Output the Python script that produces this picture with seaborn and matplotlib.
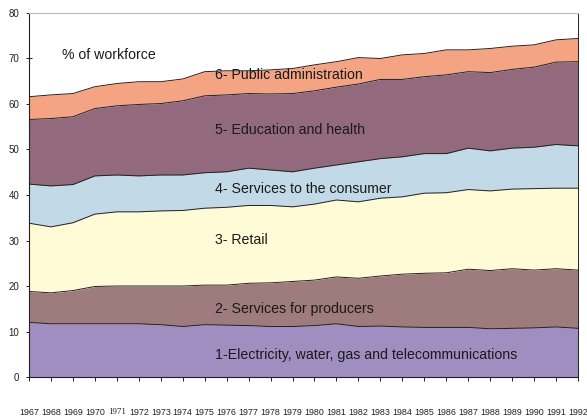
import numpy as np
import pandas as pd
import matplotlib
matplotlib.use("Agg")
import matplotlib.pyplot as plt
import seaborn as sns

# Share of workforce by sector (layer thickness, percentage points)
years = list(range(1967, 1993))
electricity = [12.0, 11.7, 11.7, 11.7, 11.7, 11.7, 11.5, 11.1, 11.5, 11.4, 11.3, 11.1, 11.1,
               11.3, 11.7, 11.1, 11.2, 11.0, 10.9, 10.9, 10.9, 10.6, 10.7, 10.8, 11.0, 10.7]
producers = [6.8, 6.8, 7.3, 8.2, 8.3, 8.3, 8.5, 8.9, 8.7, 8.8, 9.3, 9.6, 9.9,
             10.0, 10.3, 10.6, 11.0, 11.6, 11.9, 12.0, 12.8, 12.8, 13.1, 12.7, 12.8, 12.8]
retail = [15.0, 14.5, 14.9, 15.9, 16.3, 16.3, 16.5, 16.6, 16.9, 17.1, 17.1, 17.0, 16.4,
          16.7, 16.9, 16.8, 17.1, 17.0, 17.6, 17.6, 17.5, 17.5, 17.5, 17.9, 17.7, 18.0]
consumer = [8.6, 9.0, 8.4, 8.4, 8.1, 7.9, 7.9, 7.8, 7.8, 7.8, 8.2, 7.8, 7.7,
            7.9, 7.7, 8.8, 8.7, 8.8, 8.7, 8.6, 9.1, 8.8, 9.0, 9.1, 9.6, 9.3]
education = [14.2, 14.8, 14.9, 14.8, 15.2, 15.7, 15.7, 16.3, 16.9, 16.9, 16.4, 16.7, 17.2,
             17.0, 17.1, 17.1, 17.4, 17.0, 16.9, 17.3, 16.8, 17.2, 17.3, 17.6, 18.1, 18.5]
public = [5.0, 5.2, 5.1, 4.8, 4.9, 5.0, 4.8, 4.8, 5.3, 5.3, 5.0, 5.3, 5.5,
          5.7, 5.6, 5.8, 4.6, 5.4, 5.1, 5.5, 4.8, 5.3, 5.1, 4.9, 4.9, 5.1]

layer_names = ["1-Electricity, water, gas and telecommunications",
               "2- Services for producers",
               "3- Retail",
               "4- Services to the consumer",
               "5- Education and health",
               "6- Public administration"]
layer_colors = ["#A08EC0", "#9E7B7C", "#FFFBD6", "#C2D9E7", "#936A7D", "#F4A482"]
label_y = [4.8, 14.9, 30.1, 41.3, 54.3, 66.4]

sns.set_theme(style="white")
plt.rcParams['font.family'] = ['Liberation Sans', 'DejaVu Sans']

layers = [electricity, producers, retail, consumer, education, public]
cum = np.cumsum(np.array(layers), axis=0)
df = pd.DataFrame(cum.T, columns=layer_names)
df["year"] = years
long = df.melt(id_vars="year", var_name="layer", value_name="top")

fig = plt.figure(figsize=(5.87, 4.19), dpi=100)
ax = fig.add_axes([0.0494, 0.1002, 0.9353, 0.8688])

ax.stackplot(years, layers, colors=layer_colors, linewidth=0)
sns.lineplot(data=long, x="year", y="top", units="layer", estimator=None,
             color="#222222", linewidth=0.7, ax=ax, legend=False)

for name, yv in zip(layer_names, label_y):
    ax.text(1975.47, yv, name, fontsize=10.2, va="center", ha="left", color="#1a1a1a")
ax.text(1968.5, 70.8, "% of workforce", fontsize=10.2, va="center", ha="left", color="#1a1a1a")

ax.set_xlim(1967, 1992)
ax.set_ylim(0, 80)
ax.set_xticks(years)
ax.set_xticklabels([str(y) for y in years], fontsize=6.4)
for lbl in ax.get_xticklabels():
    if lbl.get_text() == "1971":
        lbl.set_family(["Liberation Serif"])
ax.set_yticks(range(0, 81, 10))
ax.set_yticklabels([str(v) for v in range(0, 81, 10)], fontsize=7)
ax.tick_params(axis="x", direction="out", length=3, width=0.7, pad=19, colors="#222222")
ax.tick_params(axis="y", direction="inout", length=4, width=0.7, pad=5, colors="#222222")
ax.tick_params(bottom=True, left=True)
ax.set_xlabel("")
ax.set_ylabel("")

for side in ["left", "bottom"]:
    ax.spines[side].set_color("#222222")
    ax.spines[side].set_linewidth(0.8)
ax.spines["top"].set_color("#BBBBBB")
ax.spines["top"].set_linewidth(0.8)
ax.spines["right"].set_color("#222222")
ax.spines["right"].set_linewidth(0.7)

fig.savefig("out.png", dpi=100)
